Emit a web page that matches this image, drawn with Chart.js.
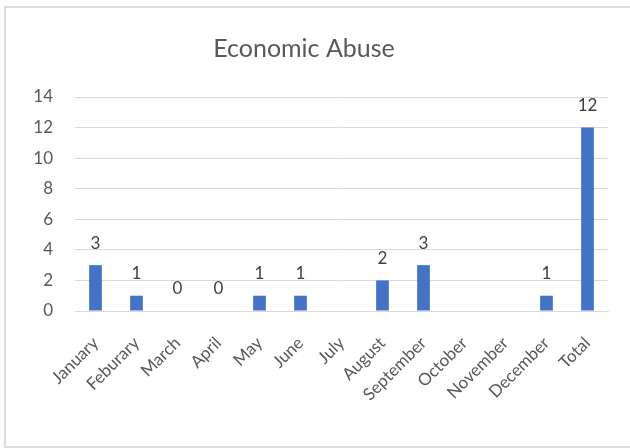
<!DOCTYPE html>
<html lang="en">

<head>
    <meta charset="UTF-8" />
    <title>Economic Abuse</title>
    <script src="https://cdn.jsdelivr.net/npm/chart.js"></script>
    <style>
        html, body { margin: 0; padding: 0; background: #fff; overflow: hidden; }
        .moldura {
            position: absolute; left: 4px; top: 6px;
            width: 640px; height: 438px;
            border: 2px solid #dcdcdc;
        }
        .grafico { position: absolute; left: 0; top: 0; width: 630px; height: 448px; }
    </style>
</head>

<body>
    <div class="moldura"></div>
    <div class="grafico"><canvas id="graficoBarras"></canvas></div>

    <script>
        // Dados do gráfico
        const meses = ["January", "Feburary", "March", "April", "May", "June", "July",
            "August", "September", "October", "November", "December", "Total"];
        const casos = [3, 1, 0, 0, 1, 1, null, 2, 3, null, null, 1, 12];
        const ticksY = [0, 2, 4, 6, 8, 10, 12, 14];

        const fonte = "Lato, 'Open Sans', sans-serif";
        const cinza = "#595959";

        // Rótulos em cima das barras
        const rotulos = {
            id: "rotulos",
            afterDatasetsDraw(chart) {
                const ctx = chart.ctx;
                const meta = chart.getDatasetMeta(0);
                ctx.save();
                ctx.font = "17px " + fonte;
                ctx.fillStyle = "#404040";
                ctx.textAlign = "center";
                ctx.textBaseline = "middle";
                meta.data.forEach((barra, i) => {
                    const v = casos[i];
                    if (v === null) return;
                    ctx.fillText(String(v), barra.x, barra.y - 22);
                });
                ctx.restore();
            }
        };

        const ctxBar = document.getElementById("graficoBarras").getContext("2d");
        new Chart(ctxBar, {
            type: "bar",
            data: {
                labels: meses,
                datasets: [{
                    data: casos,
                    backgroundColor: "#4472C4",
                    categoryPercentage: 1,
                    barPercentage: 0.31
                }]
            },
            options: {
                responsive: true,
                maintainAspectRatio: false,
                animation: false,
                layout: { padding: { left: 0, right: 22, top: 0, bottom: 0 } },
                plugins: {
                    legend: { display: false },
                    tooltip: { enabled: false },
                    title: {
                        display: true,
                        text: "Economic Abuse",
                        color: cinza,
                        font: { family: fonte, size: 25, weight: "normal", lineHeight: 1.2 },
                        padding: { top: 34, bottom: 33 }
                    }
                },
                scales: {
                    x: {
                        grid: { display: false },
                        border: { display: true, color: "#d9d9d9" },
                        ticks: {
                            color: cinza,
                            font: { family: fonte, size: 17 },
                            minRotation: 45,
                            maxRotation: 45,
                            padding: 14,
                            autoSkip: false
                        },
                        afterFit(scale) { scale.height = 137; }
                    },
                    y: {
                        min: 0,
                        max: 14,
                        afterBuildTicks(scale) { scale.ticks = ticksY.map(v => ({ value: v })); },
                        grid: { color: "#d9d9d9", lineWidth: 1, drawTicks: false },
                        border: { display: false },
                        ticks: {
                            color: cinza,
                            font: { family: fonte, size: 17 },
                            padding: 22
                        },
                        afterFit(scale) { scale.width = 75; }
                    }
                }
            },
            plugins: [rotulos]
        });
    </script>
</body>

</html>
